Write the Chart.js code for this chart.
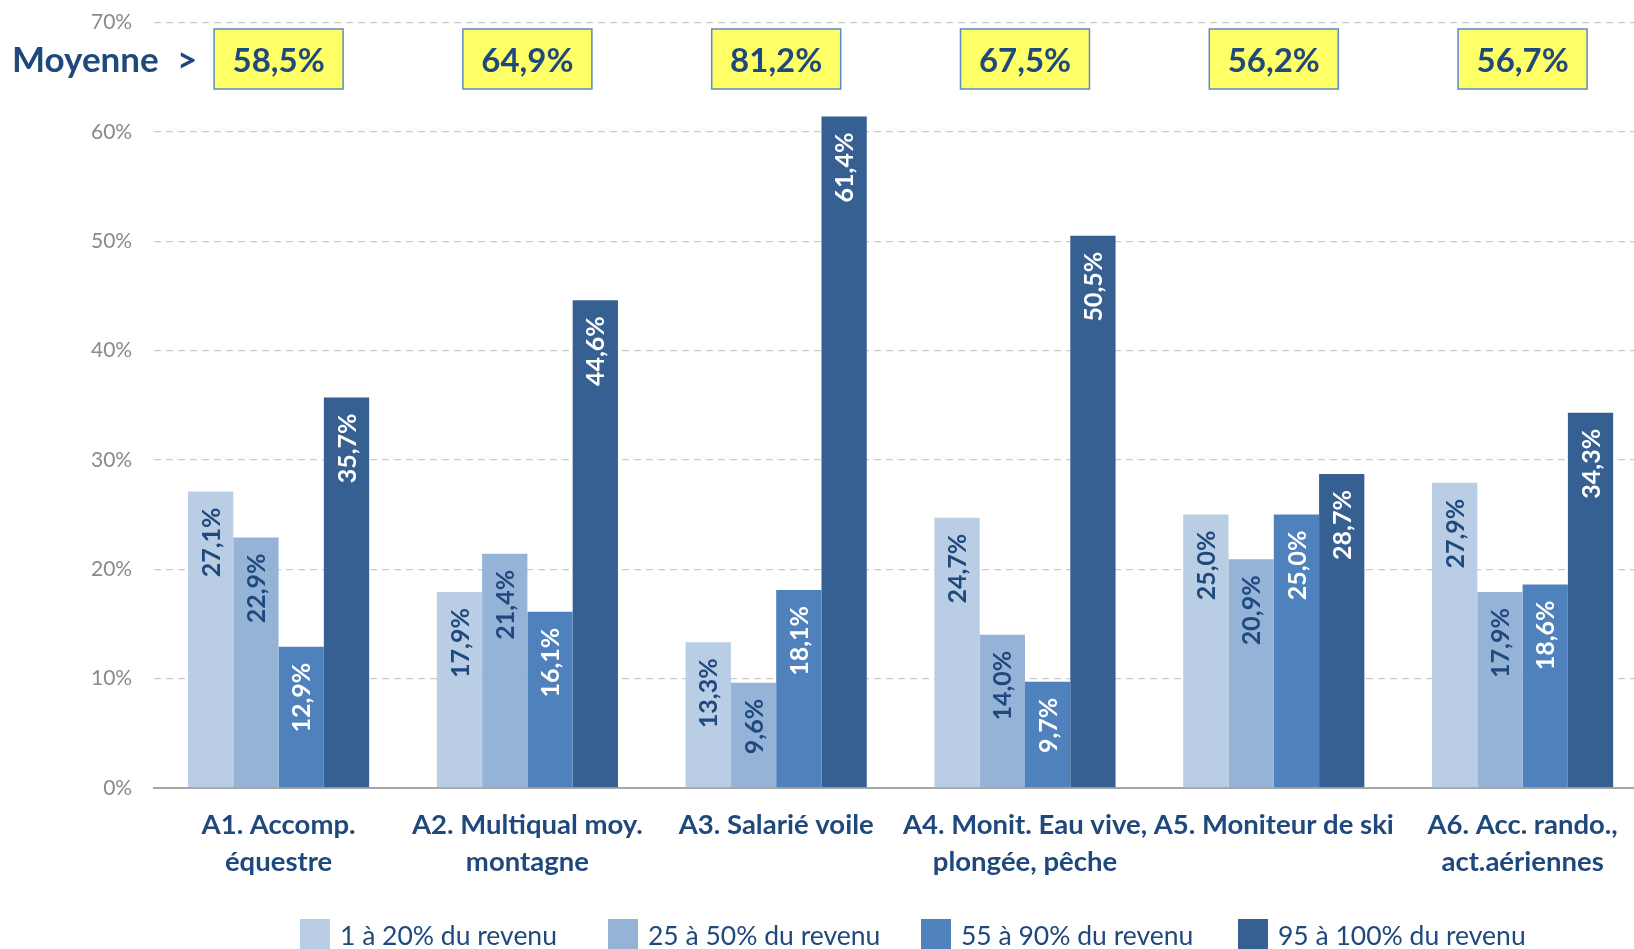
<!DOCTYPE html>
<html lang="fr">
<head>
<meta charset="utf-8">
<title>Part du revenu par activité</title>
<script src="https://cdn.jsdelivr.net/npm/chart.js@4/dist/chart.umd.min.js"></script>
<style>
  html, body { margin: 0; padding: 0; background: #fff; overflow: hidden; }
  #wrap { position: absolute; left: 0; top: -12px; width: 1660px; height: 961px; }
</style>
</head>
<body>
<div id="wrap"><canvas id="revenuChart" width="1660" height="961"></canvas></div>
<script>
// catégories (libellés sur deux lignes)
const categories = [
  ["A1. Accomp.", "équestre"],
  ["A2. Multiqual moy.", "montagne"],
  ["A3. Salarié voile", ""],
  ["A4. Monit. Eau vive,", "plongée, pêche"],
  ["A5. Moniteur de ski", ""],
  ["A6. Acc. rando.,", "act.aériennes"]
];

const seriesLabels = [
  "1 à 20% du revenu",
  "25 à 50% du revenu",
  "55 à 90% du revenu",
  "95 à 100% du revenu"
];

const part1a20 = [27.1, 17.9, 13.3, 24.7, 25.0, 27.9];
const part25a50 = [22.9, 21.4, 9.6, 14.0, 20.9, 17.9];
const part55a90 = [12.9, 16.1, 18.1, 9.7, 25.0, 18.6];
const part95a100 = [35.7, 44.6, 61.4, 50.5, 28.7, 34.3];

const moyennes = [58.5, 64.9, 81.2, 67.5, 56.2, 56.7];

const yTicks = [0, 10, 20, 30, 40, 50, 60, 70];

const colors = ["#b9cde5", "#95b3d7", "#4f81bd", "#376092"];
const labelColors = ["#1f497d", "#1f497d", "#ffffff", "#ffffff"];
const darkBlue = "#1f497d";
const FONT = "Lato, 'Open Sans', sans-serif";

// le canvas est décalé de 12px vers le haut (voir #wrap)
const OY = 12;
const legendX = [300, 608, 921, 1238];

function pct(v) {
  return v.toFixed(1).replace(".", ",") + "%";
}

// étiquettes verticales dans les barres, cadres "Moyenne" et légende
const overlayPlugin = {
  id: "overlay",
  afterDatasetsDraw(chart) {
    const ctx = chart.ctx;
    ctx.save();
    ctx.font = "bold 25px " + FONT;
    ctx.textAlign = "right";
    ctx.textBaseline = "middle";
    chart.data.datasets.forEach((ds, i) => {
      const meta = chart.getDatasetMeta(i);
      meta.data.forEach((bar, j) => {
        ctx.save();
        ctx.translate(bar.x + 1, bar.y + 16);
        ctx.rotate(-Math.PI / 2);
        ctx.fillStyle = labelColors[i];
        ctx.fillText(pct(ds.data[j]), 0, 0);
        ctx.restore();
      });
    });
    ctx.restore();
  },
  afterDraw(chart) {
    const ctx = chart.ctx;
    const xScale = chart.scales.x;
    ctx.save();

    // Moyenne >
    ctx.fillStyle = darkBlue;
    ctx.font = "bold 35px " + FONT;
    ctx.textAlign = "left";
    ctx.textBaseline = "middle";
    ctx.fillText("Moyenne", 12, OY + 61);
    ctx.fillText(">", 177, OY + 61);

    moyennes.forEach((m, i) => {
      const cx = xScale.getPixelForValue(i);
      const w = 129, h = 60;
      ctx.fillStyle = "#ffff66";
      ctx.fillRect(cx - w / 2, OY + 29, w, h);
      ctx.strokeStyle = "#5b8bc8";
      ctx.lineWidth = 1.5;
      ctx.strokeRect(cx - w / 2, OY + 29, w, h);
      ctx.fillStyle = darkBlue;
      ctx.font = "bold 33px " + FONT;
      ctx.textAlign = "center";
      ctx.fillText(pct(m), cx, OY + 61);
    });

    // légende
    ctx.font = "26.5px " + FONT;
    ctx.textAlign = "left";
    seriesLabels.forEach((lab, i) => {
      const x = legendX[i];
      ctx.fillStyle = colors[i];
      ctx.fillRect(x, OY + 919, 30, 30);
      ctx.fillStyle = darkBlue;
      ctx.fillText(lab, x + 40, OY + 936);
    });
    ctx.restore();
  }
};

const datasets = [part1a20, part25a50, part55a90, part95a100].map((d, i) => ({
  label: seriesLabels[i],
  data: d,
  backgroundColor: colors[i],
  borderWidth: 0,
  barPercentage: 1.0,
  categoryPercentage: 0.728
}));

new Chart(document.getElementById("revenuChart"), {
  type: "bar",
  data: { labels: categories, datasets },
  plugins: [overlayPlugin],
  options: {
    responsive: false,
    animation: false,
    layout: { padding: { left: 69, right: 13, top: 0, bottom: 57 } },
    plugins: {
      legend: { display: false },
      tooltip: { enabled: false }
    },
    scales: {
      x: {
        grid: { display: false },
        border: { display: true, color: "#a6a6a6", width: 2 },
        ticks: {
          color: darkBlue,
          padding: 11,
          maxRotation: 0,
          autoSkip: false,
          font: { family: FONT, size: 27.5, weight: "bold", lineHeight: 1.35 }
        }
      },
      y: {
        min: 0,
        max: 70,
        afterBuildTicks(axis) {
          axis.ticks = yTicks.map(v => ({ value: v }));
        },
        border: { display: false, dash: [7, 5] },
        grid: {
          color: "#cccccc",
          lineWidth: 1.2,
          drawTicks: false
        },
        ticks: {
          color: "#8a8a8a",
          padding: 22,
          font: { family: FONT, size: 21 },
          callback: v => v + "%"
        }
      }
    }
  }
});
</script>
</body>
</html>
